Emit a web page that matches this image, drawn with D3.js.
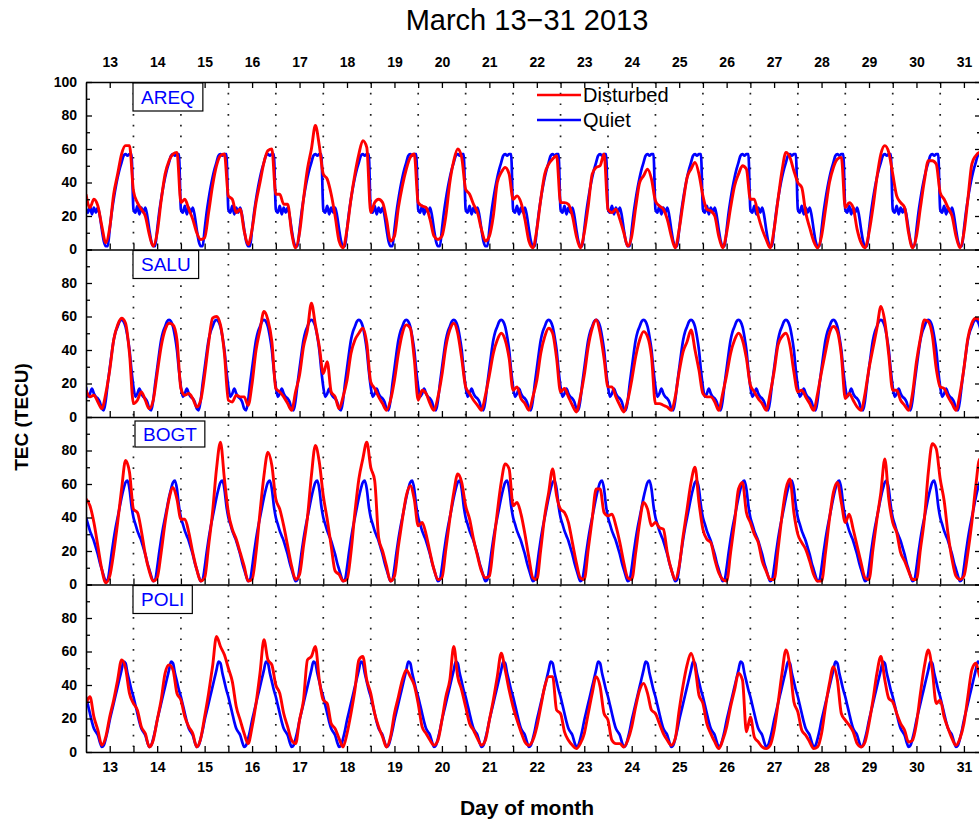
<!DOCTYPE html>
<html>
<head>
<meta charset="utf-8">
<script src="https://cdn.jsdelivr.net/npm/d3@7"></script>
<style>
    body { margin: 0; background: #fff; }
    svg { display: block; font-family: "Liberation Sans", Arial, sans-serif; }
</style>
</head>
<body>
<div id="chart"></div>
<script>
// day of month (tick labels at day centres)
const days = [13, 14, 15, 16, 17, 18, 19, 20, 21, 22, 23, 24, 25, 26, 27, 28, 29, 30, 31];
const yTicks = [0, 10, 20, 30, 40, 50, 60, 70, 80, 90, 100];
const stations = ["AREQ", "SALU", "BOGT", "POLI"];

// quiet reference: one value per hour, starting at day - 0.5
const quietAREQ = [24, 22, 26, 21, 25, 22, 25, 20, 12, 5, 2, 2, 12, 22, 30, 37, 43, 48, 52, 56, 57, 56, 57, 57];
const quietSALU = [18, 12, 14, 17, 14, 12, 11, 9, 5, 4, 10, 20, 29, 38, 46, 51, 54, 57, 58, 57, 54, 48, 40, 28];
const quietBOGT = [40, 36, 32, 29, 26, 22, 18, 13, 9, 5, 2, 3, 10, 19, 27, 34, 40, 46, 52, 57, 61, 62, 57, 47];
const quietPOLI = [33, 28, 23, 18, 14, 12, 10, 6, 3, 4, 8, 13, 19, 24, 29, 34, 39, 44, 49, 54, 53, 47, 42, 37];

// disturbed: one row per day, a value every 2 hours starting at day - 0.5
const disturbedAREQ = [
    [33, 25, 30, 26, 14, 4, 13, 33, 45, 57, 62, 62],
    [35, 28, 24, 20, 9, 2, 10, 29, 45, 53, 57, 58],
    [28, 30, 24, 18, 10, 6, 7, 22, 38, 50, 56, 57],
    [32, 30, 22, 24, 11, 3, 12, 28, 40, 52, 59, 60],
    [33, 33, 27, 27, 10, 1, 10, 30, 48, 60, 74, 62],
    [45, 42, 33, 20, 5, 1, 12, 30, 45, 57, 65, 61],
    [22, 28, 30, 28, 18, 5, 8, 25, 38, 48, 55, 57],
    [28, 26, 25, 18, 8, 6, 8, 20, 40, 53, 60, 55],
    [36, 33, 27, 22, 12, 5, 8, 20, 40, 46, 49, 45],
    [30, 32, 28, 18, 5, 1, 12, 30, 45, 51, 54, 56],
    [28, 28, 27, 20, 8, 1, 10, 26, 45, 49, 50, 57],
    [24, 22, 24, 18, 10, 2, 8, 25, 40, 44, 48, 42],
    [29, 26, 24, 18, 8, 1, 12, 28, 43, 48, 52, 45],
    [32, 24, 23, 20, 8, 1, 10, 25, 38, 45, 50, 48],
    [30, 30, 20, 12, 6, 1, 12, 30, 47, 58, 55, 47],
    [40, 37, 22, 13, 5, 1, 8, 24, 40, 49, 54, 55],
    [25, 28, 25, 12, 4, 1, 10, 25, 43, 57, 62, 58],
    [45, 32, 28, 25, 10, 1, 8, 25, 41, 53, 53, 51],
    [34, 30, 25, 20, 8, 1, 10, 30, 51, 56, 58, 58]
];
const disturbedSALU = [
    [16, 12, 13, 9, 5, 14, 28, 46, 55, 59, 56, 38],
    [8, 10, 15, 10, 5, 10, 26, 42, 52, 56, 55, 46],
    [17, 13, 14, 11, 6, 10, 25, 44, 59, 60, 55, 38],
    [10, 9, 13, 12, 12, 7, 20, 40, 52, 63, 58, 45],
    [17, 15, 12, 8, 4, 15, 25, 42, 52, 68, 55, 42],
    [26, 33, 15, 12, 5, 12, 22, 38, 46, 50, 53, 44],
    [21, 17, 12, 8, 4, 10, 22, 38, 50, 55, 53, 35],
    [10, 16, 14, 8, 4, 12, 25, 42, 52, 56, 50, 35],
    [18, 14, 10, 7, 4, 13, 25, 38, 46, 50, 46, 35],
    [16, 18, 11, 8, 4, 12, 22, 38, 48, 53, 50, 35],
    [15, 17, 12, 7, 3, 12, 25, 42, 53, 58, 50, 35],
    [18, 18, 12, 7, 3, 10, 22, 36, 46, 51, 48, 36],
    [8, 8, 7, 6, 4, 12, 27, 39, 45, 52, 40, 28],
    [14, 12, 12, 9, 4, 14, 25, 38, 46, 50, 46, 35],
    [19, 15, 11, 8, 4, 14, 27, 43, 48, 50, 43, 27],
    [15, 16, 12, 8, 4, 14, 27, 39, 50, 54, 51, 37],
    [11, 14, 10, 6, 4, 14, 29, 41, 53, 66, 57, 37],
    [16, 16, 10, 7, 4, 14, 33, 47, 58, 57, 49, 29],
    [18, 17, 12, 8, 4, 14, 29, 47, 56, 59, 58, 50]
];
const disturbedBOGT = [
    [51, 47, 37, 23, 9, 1, 5, 19, 37, 57, 74, 67],
    [45, 43, 32, 18, 8, 2, 4, 19, 37, 51, 58, 51],
    [39, 39, 31, 19, 9, 2, 4, 23, 43, 69, 85, 63],
    [43, 33, 27, 19, 11, 2, 3, 19, 43, 65, 79, 71],
    [51, 45, 35, 23, 11, 3, 6, 23, 40, 65, 83, 73],
    [53, 39, 23, 8, 6, 2, 3, 19, 43, 63, 75, 85],
    [70, 62, 28, 20, 11, 2, 5, 23, 39, 53, 59, 51],
    [35, 37, 30, 19, 9, 3, 4, 21, 39, 55, 66, 61],
    [47, 39, 27, 17, 8, 4, 5, 23, 43, 61, 72, 69],
    [47, 49, 42, 30, 16, 4, 3, 21, 41, 55, 69, 53],
    [45, 43, 37, 25, 13, 4, 3, 21, 39, 57, 57, 43],
    [41, 42, 35, 25, 13, 4, 3, 19, 37, 49, 45, 35],
    [37, 34, 33, 19, 9, 3, 11, 29, 45, 61, 70, 49],
    [33, 27, 25, 15, 7, 3, 2, 19, 37, 57, 61, 43],
    [37, 30, 25, 14, 8, 3, 3, 21, 41, 57, 63, 43],
    [30, 25, 21, 14, 6, 2, 2, 19, 39, 55, 61, 49],
    [37, 42, 33, 23, 13, 4, 3, 21, 39, 55, 75, 51],
    [37, 31, 19, 14, 8, 3, 3, 21, 39, 67, 84, 81],
    [63, 50, 30, 15, 5, 3, 5, 19, 37, 59, 75, 75]
];
const disturbedPOLI = [
    [29, 33, 21, 13, 4, 9, 21, 31, 43, 55, 50, 35],
    [29, 25, 15, 11, 3, 7, 19, 31, 47, 52, 49, 35],
    [31, 21, 15, 11, 3, 8, 21, 35, 51, 69, 63, 58],
    [50, 42, 27, 19, 11, 5, 15, 29, 47, 67, 55, 52],
    [40, 35, 23, 15, 7, 5, 19, 31, 55, 57, 63, 43],
    [31, 29, 17, 14, 8, 3, 11, 23, 37, 55, 57, 43],
    [35, 23, 15, 9, 3, 9, 23, 33, 43, 49, 45, 40],
    [29, 15, 11, 7, 4, 7, 19, 33, 43, 63, 45, 37],
    [27, 17, 13, 8, 4, 7, 19, 31, 45, 59, 49, 37],
    [27, 19, 12, 6, 4, 7, 15, 27, 39, 45, 45, 25],
    [23, 12, 7, 4, 2, 5, 11, 23, 35, 45, 39, 23],
    [19, 7, 5, 5, 3, 7, 15, 27, 37, 41, 35, 25],
    [23, 17, 11, 7, 4, 8, 25, 40, 52, 59, 51, 34],
    [29, 17, 11, 6, 2, 7, 15, 27, 37, 47, 43, 12],
    [21, 9, 6, 3, 2, 4, 13, 29, 47, 61, 51, 30],
    [24, 13, 10, 6, 2, 3, 11, 27, 41, 51, 43, 23],
    [19, 16, 12, 5, 3, 6, 17, 31, 47, 57, 43, 32],
    [30, 23, 17, 13, 6, 7, 17, 35, 51, 61, 49, 29],
    [31, 21, 14, 8, 4, 8, 17, 33, 49, 53, 45, 40]
];

const panels = [
    { name: stations[0], quiet: quietAREQ, disturbed: disturbedAREQ },
    { name: stations[1], quiet: quietSALU, disturbed: disturbedSALU },
    { name: stations[2], quiet: quietBOGT, disturbed: disturbedBOGT },
    { name: stations[3], quiet: quietPOLI, disturbed: disturbedPOLI }
];

const toQuiet = profile => days.flatMap(d =>
    profile.map((v, h) => ({ t: d - 0.5 + h / profile.length, v })));
const toDisturbed = rows => rows.flatMap((row, i) =>
    row.map((v, k) => ({ t: days[i] - 0.5 + k / row.length, v })));

const W = 979, H = 822;
const plotTop = 82, plotLeft = 86, plotRight = 981;
const panelH = 167.5;
const plotBottom = plotTop + panelH * panels.length;

const svg = d3.select("#chart")
    .append("svg")
    .attr("width", W)
    .attr("height", H);

const x = d3.scaleLinear()
    .domain([12.5, 31.36])
    .range([plotLeft, plotRight]);

const halfTicks = days.flatMap(d => [d, d + 0.5]).filter(t => t <= 31.36);

// day boundaries
svg.append("g")
    .selectAll("line")
    .data(days.slice(0, -1))
    .join("line")
    .attr("x1", d => x(d + 0.5))
    .attr("x2", d => x(d + 0.5))
    .attr("y1", plotTop)
    .attr("y2", plotBottom)
    .attr("stroke", "#222")
    .attr("stroke-width", 1.7)
    .attr("stroke-dasharray", "1.7 9");

const tickFont = g => g.selectAll("text")
    .attr("font-size", 14)
    .attr("font-weight", "bold")
    .attr("fill", "#000")
    .attr("font-family", '"Liberation Sans", Arial, sans-serif');

const axisStroke = g => {
    g.select(".domain").attr("stroke", "#000").attr("stroke-width", 1.6);
    g.selectAll(".tick line").attr("stroke", "#000").attr("stroke-width", 1.3);
};

panels.forEach((p, i) => {
    const top = plotTop + i * panelH;
    const bottom = top + panelH;

    const y = d3.scaleLinear()
        .domain([0, 100])
        .range([bottom, top]);

    svg.append("clipPath")
        .attr("id", `clip${i}`)
        .append("rect")
        .attr("x", plotLeft)
        .attr("y", top)
        .attr("width", plotRight - plotLeft)
        .attr("height", panelH);

    const line = d3.line()
        .curve(d3.curveMonotoneX)
        .x(d => x(d.t))
        .y(d => y(d.v));

    const g = svg.append("g").attr("clip-path", `url(#clip${i})`);

    g.append("path")
        .datum(toQuiet(p.quiet))
        .attr("fill", "none")
        .attr("stroke", "#0000ff")
        .attr("stroke-width", 2.7)
        .attr("stroke-linejoin", "round")
        .attr("d", line);

    g.append("path")
        .datum(toDisturbed(p.disturbed))
        .attr("fill", "none")
        .attr("stroke", "#ff0000")
        .attr("stroke-width", 2.9)
        .attr("stroke-linejoin", "round")
        .attr("d", line);

    // left axis
    svg.append("g")
        .attr("transform", `translate(${plotLeft},0)`)
        .call(d3.axisLeft(y)
            .tickValues(yTicks)
            .tickSizeInner(-6)
            .tickSizeOuter(0)
            .tickPadding(9)
            .tickFormat(v => v % 20 === 0 && (v < 100 || i === 0) ? v : ""))
        .call(tickFont)
        .call(axisStroke)
        .call(a => a.selectAll(".tick line").filter(v => v % 20 !== 0).attr("x2", 4));

    // right axis
    svg.append("g")
        .attr("transform", `translate(${plotRight},0)`)
        .call(d3.axisRight(y)
            .tickValues(yTicks)
            .tickSizeInner(-6)
            .tickSizeOuter(0)
            .tickFormat(""))
        .call(axisStroke)
        .call(a => a.selectAll(".tick line").filter(v => v % 20 !== 0).attr("x2", -4));

    // bottom axis of each panel, labels only on the last one
    svg.append("g")
        .attr("transform", `translate(0,${bottom})`)
        .call(d3.axisBottom(x)
            .tickValues(halfTicks)
            .tickSizeInner(-6)
            .tickSizeOuter(0)
            .tickPadding(10)
            .tickFormat(t => i === panels.length - 1 && Number.isInteger(t) ? t : ""))
        .call(tickFont)
        .call(axisStroke);

    if (i === 0) {
        svg.append("g")
            .attr("transform", `translate(0,${top})`)
            .call(d3.axisTop(x)
                .tickValues(halfTicks)
                .tickSizeInner(-6)
                .tickSizeOuter(0)
                .tickPadding(15)
                .tickFormat(t => Number.isInteger(t) ? t : ""))
            .call(tickFont)
            .call(axisStroke);
    }

    // station label
    const bx = i === 2 ? 135 : 133;
    const by = i === 2 ? top + 4 : top + 1;
    const box = svg.append("g").attr("transform", `translate(${bx},${by})`);
    const rect = box.append("rect")
        .attr("height", i === 2 ? 26 : 28)
        .attr("fill", "#fff")
        .attr("stroke", "#000")
        .attr("stroke-width", 1.2);
    const label = box.append("text")
        .attr("x", 8)
        .attr("y", i === 2 ? 19.5 : 20.5)
        .attr("font-size", 19)
        .attr("fill", "#0000ff")
        .text(p.name);
    rect.attr("width", label.node().getComputedTextLength() + 16);
});

// legend
const legend = [
    { label: "Disturbed", color: "#ff0000", y: 95 },
    { label: "Quiet", color: "#0000ff", y: 120 }
];
const lg = svg.append("g");
legend.forEach(l => {
    lg.append("line")
        .attr("x1", 537).attr("x2", 581)
        .attr("y1", l.y).attr("y2", l.y)
        .attr("stroke", l.color)
        .attr("stroke-width", 2.6);
    lg.append("text")
        .attr("x", 583)
        .attr("y", l.y + 7)
        .attr("font-size", 20)
        .attr("fill", "#000")
        .text(l.label);
});

// titles
svg.append("text")
    .attr("x", 527)
    .attr("y", 30)
    .attr("text-anchor", "middle")
    .attr("font-size", 29)
    .text("March 13\u221231 2013");

svg.append("text")
    .attr("transform", `translate(28,${(plotTop + plotBottom) / 2}) rotate(-90)`)
    .attr("text-anchor", "middle")
    .attr("font-size", 19)
    .attr("font-weight", "bold")
    .text("TEC (TECU)");

svg.append("text")
    .attr("x", 527)
    .attr("y", 815)
    .attr("text-anchor", "middle")
    .attr("font-size", 21)
    .attr("font-weight", "bold")
    .text("Day of month");
</script>
</body>
</html>
